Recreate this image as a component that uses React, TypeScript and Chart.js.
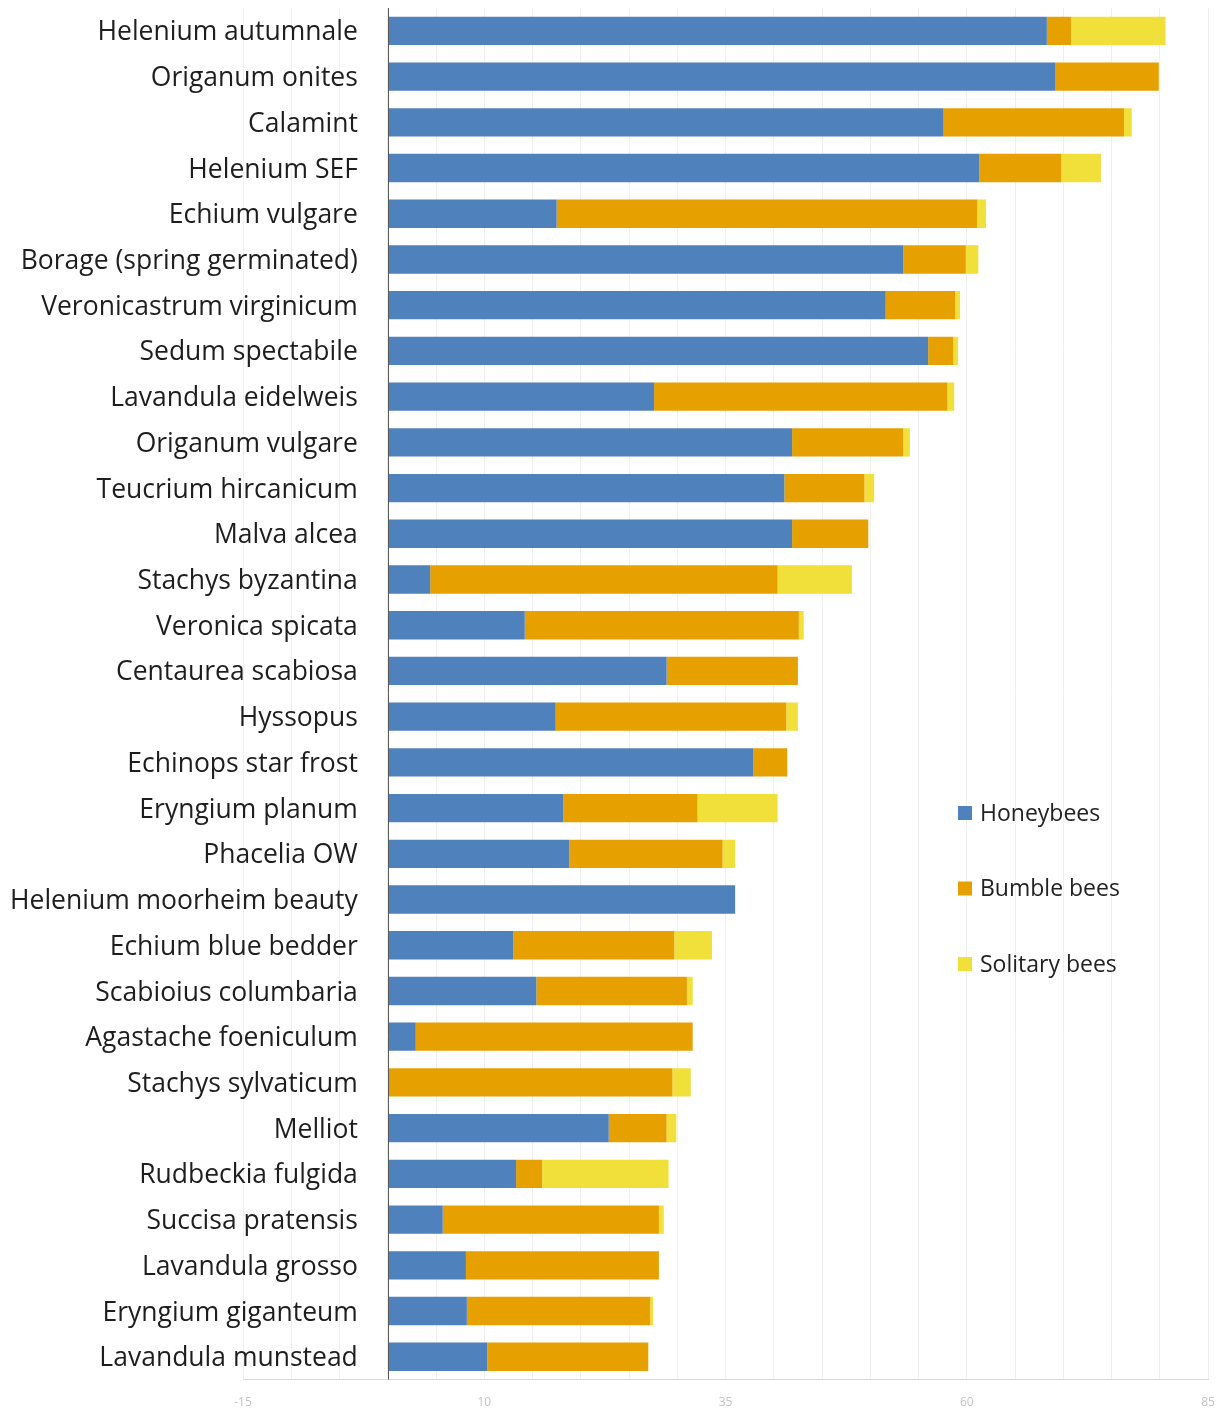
import React, { useEffect, useRef } from "react";
import { Chart, registerables } from "chart.js";

Chart.register(...registerables);

const categories = [
  "Helenium autumnale",
  "Origanum onites",
  "Calamint",
  "Helenium SEF",
  "Echium vulgare",
  "Borage (spring germinated)",
  "Veronicastrum virginicum",
  "Sedum spectabile",
  "Lavandula eidelweis",
  "Origanum vulgare",
  "Teucrium hircanicum",
  "Malva alcea",
  "Stachys byzantina",
  "Veronica spicata",
  "Centaurea scabiosa",
  "Hyssopus",
  "Echinops star frost",
  "Eryngium planum",
  "Phacelia OW",
  "Helenium moorheim beauty",
  "Echium blue bedder",
  "Scabioius columbaria",
  "Agastache foeniculum",
  "Stachys sylvaticum",
  "Melliot",
  "Rudbeckia fulgida",
  "Succisa pratensis",
  "Lavandula grosso",
  "Eryngium giganteum",
  "Lavandula munstead",
];

const honeybees = [
  68.3, 69.2, 57.6, 61.3, 17.5, 53.4, 51.6, 56.0, 27.6, 41.9,
  41.1, 41.9, 4.4, 14.2, 28.9, 17.4, 37.9, 18.2, 18.8, 36.0,
  13.0, 15.4, 2.9, 0, 22.9, 13.3, 5.7, 8.1, 8.2, 10.3,
];

const bumbleBees = [
  2.5, 10.7, 18.7, 8.5, 43.6, 6.5, 7.2, 2.6, 30.4, 11.5,
  8.3, 7.9, 36.0, 28.4, 13.6, 23.9, 3.5, 13.9, 15.9, 0,
  16.7, 15.6, 28.7, 29.5, 6.0, 2.7, 22.4, 20.0, 19.0, 16.7,
];

const solitaryBees = [
  9.8, 0, 0.8, 4.1, 0.9, 1.3, 0.5, 0.5, 0.7, 0.7,
  1.0, 0, 7.7, 0.5, 0, 1.2, 0, 8.3, 1.3, 0,
  3.9, 0.6, 0, 1.9, 1.0, 13.1, 0.5, 0, 0.3, 0,
];

const seriesNames = ["Honeybees", "Bumble bees", "Solitary bees"];
const seriesColors = ["#4f81bd", "#e6a100", "#f1e03a"];

const xMin = -15;
const xMax = 85;
const xStep = 5;
const xLabelEvery = 25;

const FONT = "'Open Sans', Lato, sans-serif";

const legendPlugin = {
  id: "insideLegend",
  afterDraw(chart: any) {
    const { ctx, chartArea } = chart;
    const left = chartArea.left + 715;
    const top = chartArea.top + 805;
    const gap = 75.5;
    ctx.save();
    ctx.font = `23px ${FONT}`;
    ctx.textBaseline = "middle";
    ctx.textAlign = "left";
    chart.data.datasets.forEach((ds: any, i: number) => {
      const cy = top + i * gap;
      ctx.fillStyle = ds.backgroundColor;
      ctx.fillRect(left, cy - 7, 14, 14);
      ctx.fillStyle = "#222222";
      ctx.fillText(ds.label, left + 22, cy + 1);
    });
    ctx.restore();
  },
};

const zeroLinePlugin = {
  id: "zeroLine",
  afterDatasetsDraw(chart: any) {
    const { ctx, chartArea, scales } = chart;
    const x = Math.round(scales.x.getPixelForValue(0)) + 0.5;
    ctx.save();
    ctx.strokeStyle = "#595959";
    ctx.lineWidth = 1;
    ctx.beginPath();
    ctx.moveTo(x, chartArea.top);
    ctx.lineTo(x, chartArea.bottom);
    ctx.stroke();
    ctx.restore();
  },
};

export default function App() {
  const canvasRef = useRef<HTMLCanvasElement | null>(null);

  useEffect(() => {
    if (!canvasRef.current) return;
    const values = [honeybees, bumbleBees, solitaryBees];
    const chart = new Chart(canvasRef.current, {
      type: "bar",
      data: {
        labels: categories,
        datasets: seriesNames.map((name, i) => ({
          label: name,
          data: values[i],
          backgroundColor: seriesColors[i],
          borderWidth: 0,
          categoryPercentage: 1,
          barPercentage: 0.62,
        })),
      },
      options: {
        indexAxis: "y",
        animation: false,
        responsive: false,
        layout: { padding: { left: 243, right: 15, top: 8, bottom: 4 } },
        plugins: {
          legend: { display: false },
          tooltip: { enabled: false },
        },
        scales: {
          x: {
            type: "linear",
            stacked: true,
            min: xMin,
            max: xMax,
            grid: {
              color: "#efefef",
              lineWidth: 1,
              drawTicks: true,
              tickLength: 14,
              tickColor: "rgba(0,0,0,0)",
            },
            border: { display: true, color: "#d9d9d9" },
            ticks: {
              stepSize: xStep,
              autoSkip: false,
              maxRotation: 0,
              padding: 2,
              color: "#c4c4c4",
              font: { family: FONT, size: 12 },
              callback: (v: any) =>
                (Number(v) - xMin) % xLabelEvery === 0 ? String(v) : "",
            },
          },
          y: {
            type: "category",
            stacked: true,
            position: { x: -3.1 } as any,
            grid: { display: false, drawTicks: false },
            border: { display: false },
            ticks: {
              padding: 0,
              labelOffset: 2,
              autoSkip: false,
              color: "#1e1e1e",
              font: { family: FONT, size: 26.5, lineHeight: 0.6 },
            },
          },
        },
      },
      plugins: [zeroLinePlugin, legendPlugin],
    });
    return () => chart.destroy();
  }, []);

  return (
    <div style={{ position: "absolute", left: 0, top: 0, width: 1223, height: 1416 }}>
      <canvas ref={canvasRef} width={1223} height={1416} style={{ display: "block" }} />
    </div>
  );
}
